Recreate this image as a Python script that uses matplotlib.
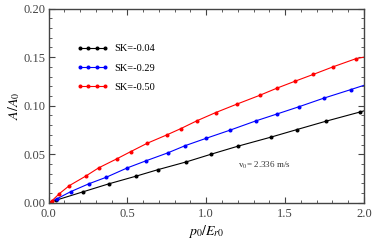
import matplotlib
matplotlib.use("Agg")
import matplotlib.pyplot as plt
from matplotlib.ticker import MultipleLocator

plt.rcParams["font.family"] = ["Liberation Serif", "DejaVu Serif"]
plt.rcParams["mathtext.fontset"] = "stix"

# ---- data (last point of each line has no marker) ----
x_black = [0.0, 0.048, 0.217, 0.38, 0.555, 0.696, 0.874, 1.031, 1.2, 1.409, 1.574, 1.758, 1.977, 2.0]
y_black = [0.0, 0.0028, 0.0113, 0.0195, 0.0275, 0.0343, 0.0422, 0.0501, 0.0583, 0.0676, 0.0754, 0.084, 0.0936, 0.0947]

x_blue = [0.0, 0.052, 0.141, 0.253, 0.366, 0.499, 0.616, 0.755, 0.868, 1.0, 1.15, 1.313, 1.449, 1.589, 1.744, 1.915, 2.0]
y_blue = [0.0, 0.0041, 0.0116, 0.0195, 0.0264, 0.036, 0.0432, 0.0514, 0.059, 0.0665, 0.0748, 0.0843, 0.0915, 0.099, 0.1077, 0.1165, 0.121]

x_red = [0.003, 0.02, 0.069, 0.132, 0.234, 0.317, 0.431, 0.52, 0.626, 0.749, 0.838, 0.942, 1.059,
         1.192, 1.339, 1.447, 1.561, 1.680, 1.807, 1.949, 2.0]
y_red = [0.0003, 0.002, 0.0096, 0.0178, 0.0274, 0.036, 0.0452, 0.0527, 0.0614, 0.0699, 0.0764, 0.0846,
         0.0929, 0.1015, 0.1107, 0.118, 0.1251, 0.1323, 0.1402, 0.1484, 0.150]

labels = ["SK=-0.04", "SK=-0.29", "SK=-0.50"]
colors = ["black", "blue", "red"]

fig = plt.figure(figsize=(3.74, 2.45), dpi=100)
ax = fig.add_axes([0.130, 0.172, 0.843, 0.793])

for xs, ys, lab, col in zip([x_black, x_blue, x_red], [y_black, y_blue, y_red], labels, colors):
    ax.plot(xs, ys, color=col, lw=0.8, marker="o", ms=1.9, markevery=slice(0, -1), label=lab)

ax.set_xlim(0, 2.0)
ax.set_ylim(0, 0.20)
ax.xaxis.set_major_locator(MultipleLocator(0.5))
ax.xaxis.set_minor_locator(MultipleLocator(0.1))
ax.yaxis.set_major_locator(MultipleLocator(0.05))
ax.yaxis.set_minor_locator(MultipleLocator(0.01))
ax.xaxis.set_major_formatter(plt.FormatStrFormatter("%.1f"))
ax.yaxis.set_major_formatter(plt.FormatStrFormatter("%.2f"))
ax.tick_params(which="both", direction="in", top=True, right=True, labelsize=9, colors="#444444")
ax.tick_params(axis="x", pad=4)
ax.tick_params(axis="y", pad=2)
ax.tick_params(which="major", length=4, width=0.8)
ax.tick_params(which="minor", length=2, width=0.6)
for s in ax.spines.values():
    s.set_color("#444444")
    s.set_linewidth(1.0)

ax.set_xlabel(r"$p_0/E_{r0}$", fontsize=10, labelpad=2)
ax.set_ylabel(r"$A/A_0$", fontsize=10, labelpad=1)

ax.legend(loc="upper left", bbox_to_anchor=(0.06, 0.865), frameon=False, fontsize=7.5,
          numpoints=4, handlelength=3.0, labelspacing=0.95, handletextpad=0.6)

ax.text(0.60, 0.18, r"v$_0$= 2.336 m/s", transform=ax.transAxes, fontsize=6.5, color="#333333")

fig.savefig("out.png", dpi=100)
